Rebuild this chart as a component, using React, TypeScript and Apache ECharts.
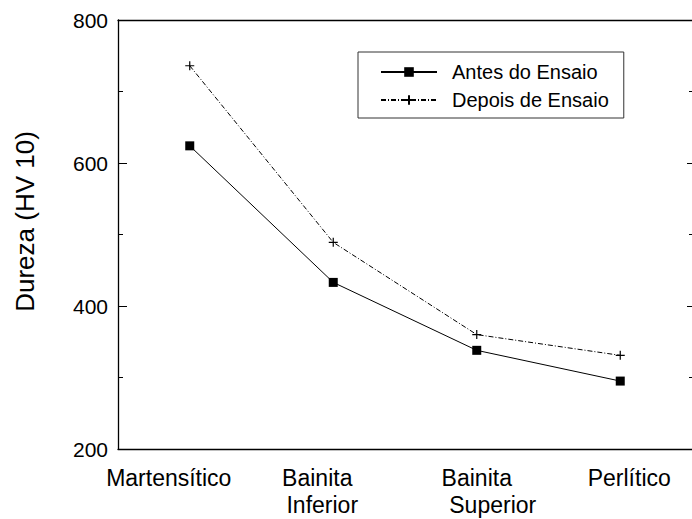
import React, { useEffect, useRef } from "react";
import * as echarts from "echarts";

const categories = ["Martensítico", "Bainita\nInferior", "Bainita\nSuperior", "Perlítico"];
const antesValues = [624, 433, 338, 295];
const depoisValues = [736, 489, 360, 331];
const seriesNames = ["Antes do Ensaio", "Depois de Ensaio"];
const yMin = 200;
const yMax = 800;
const yInterval = 200;

const FONT = "'Liberation Sans', Arial, sans-serif";

// per-category label nudges (style only)
const labelRich: Record<string, string> = {
  "Martensítico": "{m|Martensítico}",
  "Bainita\nInferior": "{bi1|Bainita}\n{bi2|Inferior}",
  "Bainita\nSuperior": "{bs1|Bainita}\n{bs2|Superior}",
  "Perlítico": "{p|Perlítico}",
};

export default function App() {
  const ref = useRef<HTMLDivElement>(null);
  useEffect(() => {
    if (!ref.current) return;
    const chart = echarts.init(ref.current, null, { renderer: "svg" });
    const base = { fontSize: 23, fontFamily: FONT, color: "#000", lineHeight: 27 };
    const axisColor = "#000";
    chart.setOption({
      animation: false,
      backgroundColor: "#fff",
      textStyle: { fontFamily: FONT },
      grid: { left: 118, right: 0, top: 20, bottom: 70, outerBoundsMode: "none", containLabel: false },
      legend: {
        orient: "vertical",
        left: 358,
        top: 52,
        itemWidth: 56,
        itemHeight: 12,
        itemGap: 8,
        padding: [10, 15, 8, 22],
        borderColor: "#333",
        borderWidth: 1,
        selectedMode: false,
        textStyle: { fontSize: 20, color: "#000", fontFamily: FONT, lineHeight: 20, padding: [0, 0, 0, 10] },
        data: seriesNames,
      },
      xAxis: [
        {
          type: "category",
          data: categories,
          position: "bottom",
          axisLine: { lineStyle: { color: axisColor, width: 1.3 } },
          axisTick: { alignWithLabel: true, inside: false, length: 5, lineStyle: { color: axisColor } },
          axisLabel: {
            margin: 15,
            interval: 0,
            formatter: (v: string) => labelRich[v] ?? v,
            rich: {
              m: { ...base, padding: [0, 42, 0, 0] },
              bi1: { ...base, padding: [0, 32, 0, 0] },
              bi2: { ...base, padding: [0, 22, 0, 0] },
              bs1: { ...base },
              bs2: { ...base, padding: [0, 0, 0, 32] },
              p: { ...base, padding: [0, 0, 0, 18] },
            },
            ...base,
          },
        },
        {
          type: "category",
          data: categories,
          position: "bottom",
          axisLine: { show: false },
          axisTick: { alignWithLabel: true, inside: true, length: 4, lineStyle: { color: axisColor } },
          axisLabel: { show: false },
        },
        {
          type: "category",
          data: categories,
          position: "bottom",
          axisLine: { show: false },
          axisTick: { alignWithLabel: false, inside: true, length: 3, lineStyle: { color: axisColor } },
          axisLabel: { show: false },
        },
        {
          type: "category",
          data: categories,
          position: "top",
          axisLine: { lineStyle: { color: axisColor, width: 1.3 } },
          axisTick: { alignWithLabel: true, inside: true, length: 4, lineStyle: { color: axisColor } },
          axisLabel: { show: false },
        },
      ],
      yAxis: [
        {
          type: "value",
          min: yMin,
          max: yMax,
          interval: yInterval,
          position: "left",
          name: "Dureza (HV 10)",
          nameLocation: "middle",
          nameGap: 80,
          nameTextStyle: { fontSize: 26, color: "#000", fontFamily: FONT, padding: [0, 0, 0, 26] },
          axisLine: { show: true, lineStyle: { color: axisColor, width: 1.3 } },
          axisTick: { show: true, inside: true, length: 9, lineStyle: { color: axisColor } },
          minorTick: { show: true, splitNumber: 2, length: 5, lineStyle: { color: axisColor } },
          splitLine: { show: false },
          axisLabel: { fontSize: 21, color: "#000", fontFamily: FONT, margin: 10 },
        },
        {
          type: "value",
          min: yMin,
          max: yMax,
          interval: yInterval,
          position: "right",
          axisLine: { show: false },
          axisTick: { show: true, inside: true, length: 5, lineStyle: { color: axisColor } },
          minorTick: { show: true, splitNumber: 2, length: 3, lineStyle: { color: axisColor } },
          splitLine: { show: false },
          axisLabel: { show: false },
        },
      ],
      series: [
        {
          type: "line",
          name: seriesNames[0],
          data: antesValues,
          xAxisIndex: 0,
          yAxisIndex: 0,
          symbol: "rect",
          symbolSize: 9,
          lineStyle: { color: "#000", width: 1 },
          itemStyle: { color: "#000" },
          emphasis: { disabled: true },
          silent: true,
        },
        {
          type: "line",
          name: seriesNames[1],
          data: depoisValues,
          xAxisIndex: 0,
          yAxisIndex: 0,
          symbol: "path://M0,5L10,5M5,0L5,10",
          symbolSize: 9,
          lineStyle: { color: "#000", width: 1, type: [5, 2, 1, 2] },
          itemStyle: { color: "#000", borderColor: "#000", borderWidth: 1.2 },
          emphasis: { disabled: true },
          silent: true,
        },
      ],
    });
    return () => chart.dispose();
  }, []);
  return (
    <div
      ref={ref}
      style={{ position: "absolute", left: 0, top: 0, width: 692, height: 519 }}
    />
  );
}
